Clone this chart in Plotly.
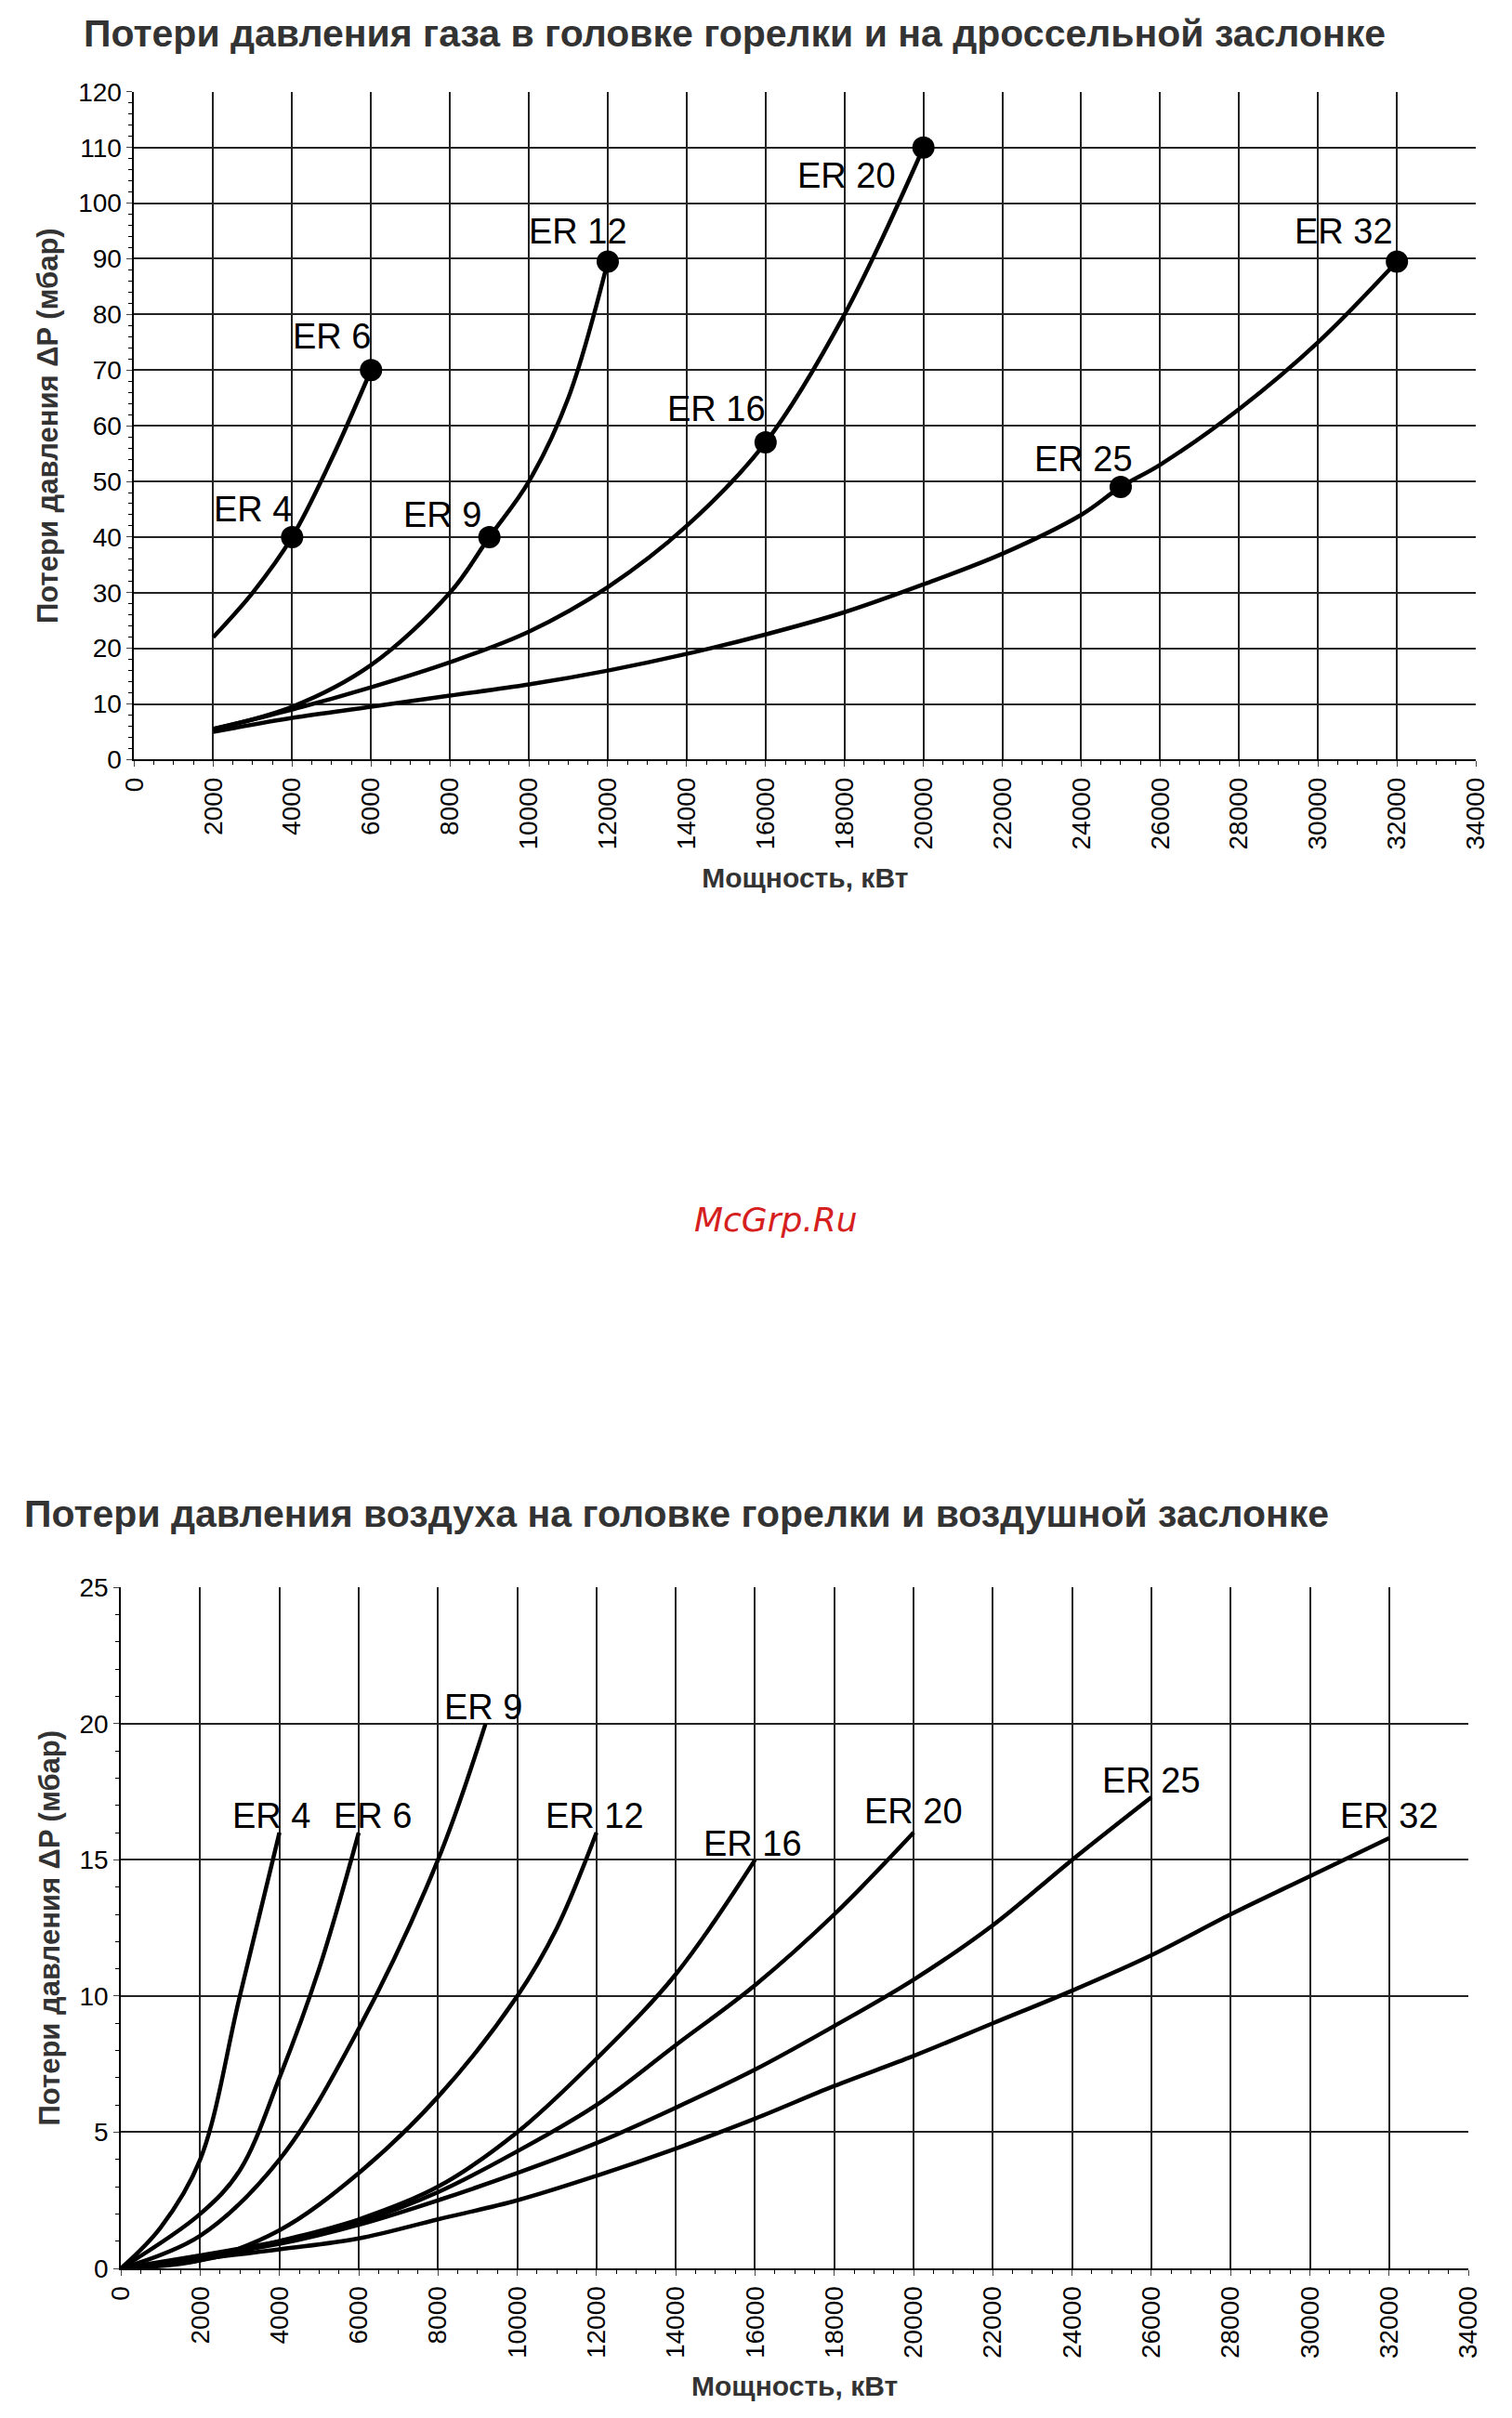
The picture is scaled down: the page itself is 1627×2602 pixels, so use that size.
import plotly.graph_objects as go

# --- gas chart data (kW, mbar) ---
gas_a_x = [2000, 3000, 4000, 5000, 6000]
gas_a_y = [22, 30, 40, 54, 70]
gas_b_x = [2000, 4000, 6000, 8000, 9000, 10000, 11000, 12000]
gas_b_y = [5.5, 9.5, 17, 30, 40, 50, 65, 89.5]
gas_c_x = [2000, 4000, 6000, 8000, 10000, 12000, 14000, 16000, 18000, 20000]
gas_c_y = [5.5, 9, 13, 17.5, 23, 31, 42, 57, 80, 110]
gas_d_x = [2000, 4000, 6000, 8000, 10000, 12000, 14000, 16000, 18000, 20000,
           22000, 24000, 25000, 26000, 28000, 30000, 32000]
gas_d_y = [5, 7.5, 9.5, 11.5, 13.5, 16, 19, 22.5, 26.5, 31.5,
           37, 44, 49, 53, 63, 75, 89.5]
gas_pts_x = [4000, 6000, 9000, 12000, 16000, 20000, 25000, 32000]
gas_pts_y = [40, 70, 40, 89.5, 57, 110, 49, 89.5]
gas_names = ["ER 4", "ER 6", "ER 9", "ER 12", "ER 16", "ER 20", "ER 25", "ER 32"]
gas_lbl_x = [3000, 5000, 7800, 11250, 14750, 18050, 24050, 30650]
gas_lbl_y = [45, 76, 44, 95, 63, 105, 54, 95]

# --- air chart data ---
air = {
    "ER 4": ([0, 1000, 2000, 3000, 4000], [0, 1.5, 4, 10, 16]),
    "ER 6": ([0, 2000, 3000, 4000, 5000, 6000], [0, 2, 3.6, 7, 11, 16]),
    "ER 9": ([0, 2000, 4000, 6000, 8000, 9200], [0, 1.2, 4, 8.8, 15, 20]),
    "ER 12": ([0, 2000, 4000, 6000, 8000, 10000, 11000, 12000],
              [0, 0.3, 1.4, 3.5, 6.3, 10, 12.5, 16]),
    "ER 16": ([0, 2000, 4000, 6000, 8000, 10000, 12000, 14000, 16000],
              [0, 0.3, 1, 1.8, 3, 5, 7.7, 10.8, 15]),
    "ER 20": ([0, 4000, 6000, 8000, 10000, 12000, 14000, 16000, 18000, 20000],
              [0, 1, 1.7, 2.8, 4.3, 6, 8.2, 10.4, 13, 16]),
    "ER 25": ([0, 4000, 6000, 8000, 10000, 12000, 14000, 16000, 18000, 20000, 22000, 24000, 26000],
              [0, 0.9, 1.6, 2.5, 3.5, 4.6, 5.9, 7.3, 8.9, 10.6, 12.6, 15, 17.3]),
    "ER 32": ([0, 4000, 6000, 8000, 10000, 12000, 14000, 16000, 18000, 20000,
               22000, 24000, 26000, 28000, 30000, 32000],
              [0, 0.7, 1.1, 1.8, 2.5, 3.4, 4.4, 5.5, 6.7, 7.8, 9, 10.2, 11.5, 13, 14.4, 15.8]),
}
air_lbl_x = [3800, 6350, 9150, 11950, 15950, 20000, 26000, 32000]
air_lbl_y = [16.6, 16.6, 20.6, 16.6, 15.6, 16.8, 17.9, 16.6]

xticks = list(range(0, 34001, 2000))
xtick_text = [str(v) for v in xticks]
FONT = "Liberation Sans Narrow, Liberation Sans, Arial"

fig = go.Figure()
line = dict(color="black", width=4.5, shape="spline")
for xs, ys in [(gas_a_x, gas_a_y), (gas_b_x, gas_b_y), (gas_c_x, gas_c_y), (gas_d_x, gas_d_y)]:
    fig.add_trace(go.Scatter(x=xs, y=ys, mode="lines", line=line, xaxis="x", yaxis="y"))
fig.add_trace(go.Scatter(x=gas_pts_x, y=gas_pts_y, mode="markers",
                         marker=dict(color="black", size=24), xaxis="x", yaxis="y"))
for name, (xs, ys) in air.items():
    fig.add_trace(go.Scatter(x=xs, y=ys, mode="lines", line=line, xaxis="x2", yaxis="y2"))

for n, lx, ly in zip(gas_names, gas_lbl_x, gas_lbl_y):
    fig.add_annotation(x=lx, y=ly, xref="x", yref="y", text=n, showarrow=False,
                       font=dict(size=38, color="black", family=FONT))
for n, lx, ly in zip(air.keys(), air_lbl_x, air_lbl_y):
    fig.add_annotation(x=lx, y=ly, xref="x2", yref="y2", text=n, showarrow=False,
                       font=dict(size=38, color="black", family=FONT))

fig.add_annotation(x=0.04, y=1.0, yshift=12, xref="paper", yref="paper", xanchor="left", yanchor="top",
                   text="<b>Потери давления газа в головке горелки и на дроссельной заслонке</b>",
                   showarrow=False, font=dict(size=41, color="#333", family=FONT))
fig.add_annotation(x=0.0, y=0.385, xref="paper", yref="paper", xanchor="left", yanchor="top",
                   text="<b>Потери давления воздуха на головке горелки и воздушной заслонке</b>",
                   showarrow=False, font=dict(size=41, color="#333", family=FONT))
fig.add_annotation(x=0.508, y=0.4985, xref="paper", yref="paper", text="<i>McGrp.Ru</i>",
                   showarrow=False, font=dict(size=36, color="#d62020", family="DejaVu Sans"))

xax = dict(range=[0, 34000], tickvals=xticks, ticktext=xtick_text, tickangle=-90, showgrid=True,
           gridcolor="#222", gridwidth=1.5, showline=True, linecolor="black", linewidth=2,
           ticks="outside", ticklen=6, tickfont=dict(size=28, family=FONT, color="black"),
           minor=dict(dtick=500, ticks="outside", ticklen=4, tickcolor="black"),
           title=dict(text="<b>Мощность, кВт</b>", font=dict(size=30, family=FONT, color="#333"),
                      standoff=20),
           mirror=False, zeroline=False)
yax = dict(showgrid=True, gridcolor="#222", gridwidth=1.5, showline=True, linecolor="black",
           linewidth=2, ticks="outside", ticklen=6, tickfont=dict(size=28, family=FONT, color="black"),
           title=dict(text="<b>Потери давления ΔP (мбар)</b>",
                      font=dict(size=31, family="Liberation Sans", color="#333"), standoff=12),
           zeroline=False)

fig.update_layout(
    width=1627, height=2602, margin=dict(l=0, r=0, t=0, b=0),
    plot_bgcolor="white", paper_bgcolor="white", showlegend=False,
    xaxis=dict(xax, domain=[0.0755, 0.98], anchor="y"),
    yaxis=dict(yax, domain=[0.691, 0.9705], range=[0, 120], dtick=10, anchor="x",
               minor=dict(dtick=2, ticks="outside", ticklen=4, tickcolor="black")),
    xaxis2=dict(xax, domain=[0.0665, 0.975], anchor="y2"),
    yaxis2=dict(yax, domain=[0.0595, 0.3445], range=[0, 25], dtick=5, anchor="x2",
                minor=dict(dtick=1, ticks="outside", ticklen=4, tickcolor="black")),
)
fig.write_html("out.html")
